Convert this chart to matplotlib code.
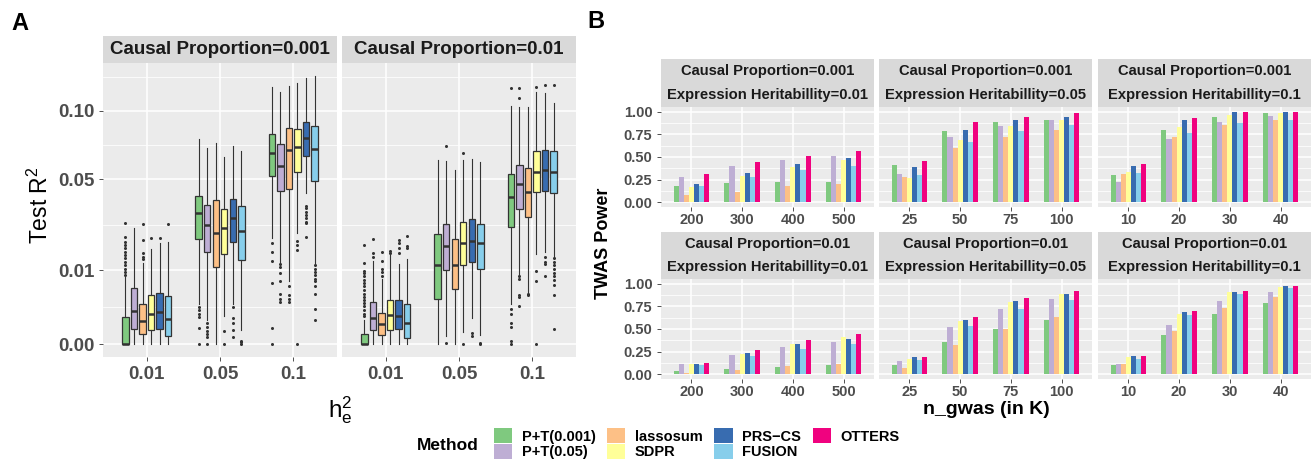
import numpy as np
import matplotlib.pyplot as plt
from matplotlib.patches import Patch

plt.rcParams['font.family'] = ['Liberation Sans', 'DejaVu Sans']
plt.rcParams['mathtext.default'] = 'regular'

methods = ['P+T(0.001)', 'P+T(0.05)', 'lassosum', 'SDPR', 'PRS\u2212CS', 'FUSION', 'OTTERS']
colors = ['#7FC97F', '#BEAED4', '#FDC086', '#FFFF99', '#386CB0', '#87CEEB', '#F0027F']

# ---------------- panel A: test R2 box summaries (rows = h2e groups, cols = first 6 methods)
h2_labels = ['0.01', '0.05', '0.1']

q1_cp001 = [[0, 0.0004, 0.0002, 0.00034, 0.0004, 0.00012],
            [0.0202, 0.0155, 0.0108, 0.0148, 0.0193, 0.0131],
            [0.0520, 0.0431, 0.0442, 0.0543, 0.0653, 0.0489]]
med_cp001 = [[0, 0.0020, 0.00095, 0.0017, 0.0019, 0.00115],
             [0.0318, 0.0259, 0.0228, 0.0246, 0.0294, 0.0237],
             [0.0674, 0.0583, 0.0693, 0.0712, 0.0781, 0.0702]]
q3_cp001 = [[0.00134, 0.0057, 0.0029, 0.00436, 0.0048, 0.0043],
            [0.0403, 0.0358, 0.0382, 0.0334, 0.0387, 0.0351],
            [0.0809, 0.0739, 0.0862, 0.0851, 0.0905, 0.0872]]
lo_cp001 = [[0, 0, 0, 0, 0, 0],
            [0.0030, 0.0011, 0, 0.0014, 0.0030, 0.00036],
            [0.0208, 0.0122, 0.0074, 0.0226, 0.0422, 0.0120]]
hi_cp001 = [[0.0083, 0.0249, 0.0120, 0.0167, 0.0189, 0.0192],
            [0.0776, 0.0710, 0.0741, 0.0642, 0.0722, 0.0686],
            [0.1213, 0.1166, 0.1222, 0.1257, 0.1300, 0.1322]]
out_cp001 = [
    [[0.0088, 0.0096, 0.0105, 0.0115, 0.0125, 0.0135, 0.0146, 0.0157, 0.0169, 0.0180, 0.0193, 0.0212, 0.0270],
     [], [0.0132, 0.0140, 0.0151, 0.0198, 0.0264], [0.0206], [0.0208], [0.0265]],
    [[0.0025, 0.0021, 0.0017, 0.0013, 0.00045, 0],
     [0.0008, 0.00055, 0.00033, 0.00018, 0.00008, 0],
     [], [0.00033, 0], [0.0025, 0.0012, 0.0008, 0.00036, 0.00008], [0.00002, 0.00001, 0]],
    [[0.0187, 0.0157, 0.0127, 0.0068, 0.00045, 0],
     [0.0118, 0.0110, 0.0092, 0.0072, 0.0047, 0.0037, 0.0032],
     [0.0061, 0.0044, 0.0038, 0.0032],
     [0.0195, 0.0180, 0.0163, 0],
     [0.0351, 0.0339, 0.0323, 0.0306, 0.0291, 0.0276, 0.0268, 0.0212],
     [0.0115, 0.0105, 0.0096, 0.0088, 0.0079, 0.0072, 0.0061, 0.0047, 0.0023, 0.0011]]]

q1_cp01 = [[0, 0.00036, 0.00014, 0.00036, 0.0004, 0.00007],
           [0.0037, 0.0100, 0.0056, 0.0116, 0.0124, 0.0103],
           [0.0252, 0.0337, 0.0295, 0.0425, 0.0429, 0.0418]]
med_cp01 = [[0, 0.00128, 0.00071, 0.00151, 0.00144, 0.00081],
            [0.0116, 0.0176, 0.0116, 0.0188, 0.0197, 0.0187],
            [0.0398, 0.0471, 0.0425, 0.0547, 0.0557, 0.0543]]
q3_cp01 = [[0.00017, 0.00325, 0.00181, 0.00356, 0.00362, 0.00299],
           [0.0221, 0.0264, 0.0202, 0.0274, 0.0288, 0.0267],
           [0.0532, 0.0592, 0.0573, 0.0688, 0.0693, 0.0688]]
lo_cp01 = [[0, 0, 0, 0, 0, 0],
           [0, 0.00012, 0, 0.00028, 0.0012, 0.00015],
           [0.0030, 0.0088, 0.0049, 0.0148, 0.0157, 0.0140]]
hi_cp01 = [[0.0011, 0.0127, 0.0079, 0.0146, 0.0118, 0.0133],
           [0.0623, 0.0617, 0.0557, 0.0623, 0.0628, 0.0612],
           [0.1043, 0.1031, 0.1031, 0.1166, 0.1157, 0.1072]]
out_cp01 = [
    [[0.0014, 0.0017, 0.0021, 0.0026, 0.0031, 0.0036, 0.0041, 0.0047, 0.0054, 0.0061,
      0.0068, 0.0075, 0.0084, 0.0092, 0.0099, 0.0120, 0.0180],
     [0.0140, 0.0151, 0.0204], [0.0084, 0.0096, 0.0105, 0.0128, 0.0157],
     [0.0154, 0.0158], [0.0151, 0.0169, 0.0187, 0.0199], [0.0169, 0.0177, 0.0215]],
    [[], [0.000003, 0.0722], [], [0, 0.0669], [0.00021, 0.00012], [0.000003, 0]],
    [[0.0023, 0.0017, 0.0008, 0.00055, 0.00002, 0, 0.1203],
     [0.0084, 0.0077, 0.0044, 0.0041, 0.0026, 0.1203, 0.1117],
     [0.0047, 0.0044],
     [0.0099, 0.0074, 0, 0.1219],
     [0.0140, 0.0125, 0.0118, 0.0084, 0.1235],
     [0.0135, 0.0125, 0.0115, 0.0105, 0.0092, 0.0084, 0.0075, 0.0064, 0.0045, 0.0004, 0.1235]]]

# ---------------- panel B: TWAS power (one list of 4 values per method)
n_small = ['200', '300', '400', '500']
n_mid = ['25', '50', '75', '100']
n_large = ['10', '20', '30', '40']

pow_cp001_h001 = [[0.18, 0.21, 0.22, 0.23], [0.28, 0.40, 0.465, 0.51], [0.08, 0.12, 0.18, 0.20],
                  [0.165, 0.29, 0.385, 0.465], [0.20, 0.32, 0.42, 0.485], [0.18, 0.275, 0.355, 0.40],
                  [0.31, 0.44, 0.515, 0.57]]
pow_cp001_h005 = [[0.41, 0.79, 0.88, 0.91], [0.31, 0.725, 0.845, 0.91], [0.285, 0.60, 0.715, 0.80],
                  [0.265, 0.69, 0.845, 0.91], [0.385, 0.80, 0.91, 0.945], [0.30, 0.66, 0.79, 0.855],
                  [0.46, 0.89, 0.945, 0.98]]
pow_cp001_h01 = [[0.30, 0.80, 0.945, 0.98], [0.23, 0.70, 0.89, 0.955], [0.31, 0.715, 0.855, 0.91],
                 [0.33, 0.835, 0.965, 0.98], [0.405, 0.91, 0.99, 1.0], [0.32, 0.76, 0.87, 0.91],
                 [0.42, 0.925, 1.0, 1.0]]
pow_cp01_h001 = [[0.035, 0.055, 0.077, 0.10], [0.11, 0.21, 0.30, 0.355], [0.02, 0.045, 0.09, 0.115],
                 [0.115, 0.23, 0.335, 0.41], [0.12, 0.235, 0.33, 0.395], [0.10, 0.20, 0.275, 0.34],
                 [0.13, 0.265, 0.375, 0.45]]
pow_cp01_h005 = [[0.10, 0.355, 0.505, 0.595], [0.145, 0.52, 0.715, 0.825], [0.075, 0.32, 0.495, 0.63],
                 [0.165, 0.585, 0.795, 0.89], [0.19, 0.595, 0.805, 0.89], [0.155, 0.53, 0.715, 0.815],
                 [0.19, 0.63, 0.84, 0.915]]
pow_cp01_h01 = [[0.10, 0.43, 0.66, 0.785], [0.12, 0.54, 0.805, 0.905], [0.11, 0.475, 0.73, 0.85],
                [0.19, 0.66, 0.905, 0.96], [0.20, 0.685, 0.905, 0.97], [0.175, 0.65, 0.88, 0.95],
                [0.20, 0.695, 0.915, 0.97]]

W, H = 1313, 462
fig = plt.figure(figsize=(W / 100, H / 100), dpi=100)


def px_axes(x0, y0, x1, y1):
    return fig.add_axes([x0 / W, 1 - y1 / H, (x1 - x0) / W, (y1 - y0) / H])


def style(ax):
    ax.set_facecolor('#EBEBEB')
    for s in ax.spines.values():
        s.set_visible(False)
    ax.set_axisbelow(True)
    ax.grid(True, which='major', color='white', linewidth=1.1)
    ax.grid(True, which='minor', axis='y', color='white', linewidth=0.55)
    ax.tick_params(which='major', length=2.75, width=0.6, color='#333333', labelcolor='#4D4D4D')
    ax.tick_params(which='minor', length=0)


def strip(x0, y0, x1, y1, lines, size, ys):
    s = px_axes(x0, y0, x1, y1)
    s.set_facecolor('#D9D9D9')
    s.set_xticks([])
    s.set_yticks([])
    for sp in s.spines.values():
        sp.set_visible(False)
    for txt, yy in zip(lines, ys):
        s.text(0.5, yy, txt, ha='center', va='center', fontsize=size, fontweight='bold', color='#1A1A1A')


def box_facet(ax, q1, med, q3, lo, hi, out, show_y):
    style(ax)
    for g in range(3):
        for m in range(6):
            st = dict(q1=np.sqrt(q1[g][m]), med=np.sqrt(med[g][m]), q3=np.sqrt(q3[g][m]),
                      whislo=np.sqrt(lo[g][m]), whishi=np.sqrt(hi[g][m]),
                      fliers=np.sqrt(np.array(out[g][m], dtype=float)))
            ax.bxp([st], positions=[g + (m - 2.5) * 0.117], widths=0.088, patch_artist=True,
                   showcaps=False, manage_ticks=False,
                   boxprops=dict(facecolor=colors[m], edgecolor='#333333', linewidth=0.9),
                   medianprops=dict(color='#333333', linewidth=1.8),
                   whiskerprops=dict(color='#333333', linewidth=0.8),
                   flierprops=dict(marker='o', markersize=2.2, markerfacecolor='#333333',
                                   markeredgecolor='none'))
    ax.set_xlim(-0.6, 2.6)
    ax.set_ylim(-0.0176, 0.3813)
    ax.set_xticks(range(3), h2_labels, fontsize=13.5, fontweight='bold')
    # y axis is on a square-root scale
    ticks = np.sqrt([0, 0.01, 0.05, 0.1])
    ax.set_yticks(ticks, ['0.00', '0.01', '0.05', '0.10'], fontsize=13.5, fontweight='bold')
    mids = (ticks[:-1] + ticks[1:]) / 2
    ax.set_yticks(list(mids) + [ticks[-1] + (ticks[-1] - ticks[-2]) / 2], minor=True)
    if not show_y:
        ax.tick_params(axis='y', which='both', length=0, labelleft=False)


def bar_facet(ax, vals, xlabels, show_y):
    style(ax)
    x = np.arange(4)
    for m in range(7):
        ax.bar(x + (m - 3) * 0.1, vals[m], width=0.1, color=colors[m], linewidth=0)
    ax.set_xlim(-0.6, 3.6)
    ax.set_ylim(-0.05, 1.05)
    ax.set_xticks(x, xlabels, fontsize=10.5, fontweight='bold')
    ax.set_yticks([0, 0.25, 0.5, 0.75, 1.0], ['0.00', '0.25', '0.50', '0.75', '1.00'],
                  fontsize=10.5, fontweight='bold')
    ax.set_yticks([0.125, 0.375, 0.625, 0.875], minor=True)
    ax.tick_params(axis='x', pad=1.5)
    if not show_y:
        ax.tick_params(axis='y', which='both', length=0, labelleft=False)


# panel A
axA1 = px_axes(103, 63, 337, 357)
box_facet(axA1, q1_cp001, med_cp001, q3_cp001, lo_cp001, hi_cp001, out_cp001, True)
strip(103, 36, 337, 63, ['Causal Proportion=0.001'], 13.5, [0.5])
axA2 = px_axes(342, 63, 576, 357)
box_facet(axA2, q1_cp01, med_cp01, q3_cp01, lo_cp01, hi_cp01, out_cp01, False)
strip(342, 36, 576, 63, ['Causal Proportion=0.01'], 13.5, [0.5])

fig.text(40 / W, 1 - 205 / H, 'Test R$^2$', rotation=90, ha='center', va='center', fontsize=16.5)
fig.text(340 / W, 1 - 410 / H, '$h_e^2$', ha='center', va='center', fontsize=17.5)
fig.text(20 / W, 1 - 24 / H, 'A', ha='center', va='center', fontsize=17, fontweight='bold')

# panel B
cols = [(661, 874), (879, 1092), (1098, 1311)]
rows = [(59, 107, 207), (232, 279, 379)]
facets = [[(pow_cp001_h001, n_small, '0.01'), (pow_cp001_h005, n_mid, '0.05'), (pow_cp001_h01, n_large, '0.1')],
          [(pow_cp01_h001, n_small, '0.01'), (pow_cp01_h005, n_mid, '0.05'), (pow_cp01_h01, n_large, '0.1')]]
cp_labels = ['0.001', '0.01']
for r, (ys, yp, ye) in enumerate(rows):
    for c, (x0, x1) in enumerate(cols):
        vals, xl, h2 = facets[r][c]
        ax = px_axes(x0, yp, x1, ye)
        bar_facet(ax, vals, xl, c == 0)
        strip(x0, ys, x1, yp, ['Causal Proportion=' + cp_labels[r],
                               'Expression Heritabillity=' + h2], 10.6, [0.74, 0.25])

fig.text(604 / W, 1 - 243 / H, 'TWAS Power', rotation=90, ha='center', va='center',
         fontsize=13, fontweight='bold')
fig.text(986 / W, 1 - 410 / H, 'n_gwas (in K)', ha='center', va='center', fontsize=14, fontweight='bold')
fig.text(596 / W, 1 - 22 / H, 'B', ha='center', va='center', fontsize=17, fontweight='bold')

# legend
handles = [Patch(facecolor=c, edgecolor='none') for c in colors]
fig.legend(handles, methods, ncol=4, loc='upper left', bbox_to_anchor=(494 / W, 1 - 428 / H),
           frameon=False, borderpad=0, borderaxespad=0, prop=dict(weight='bold', size=10.5),
           handlelength=1.25, handleheight=1.25, handletextpad=0.65, columnspacing=0.8, labelspacing=0)
fig.text(417 / W, 1 - 446 / H, 'Method', ha='left', va='center', fontsize=12.5, fontweight='bold')

fig.savefig('out.png', dpi=100)
